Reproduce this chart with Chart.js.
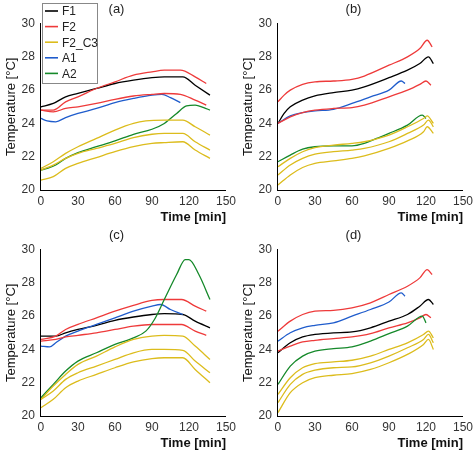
<!DOCTYPE html>
<html>
<head>
<meta charset="utf-8">
<script src="https://cdn.jsdelivr.net/npm/chart.js@4/dist/chart.umd.min.js"></script>
<style>
  body { margin: 0; background: #fff; }
  #wrap { position: relative; width: 474px; height: 453px; }
  .panel { position: absolute; width: 237px; height: 226px; }
</style>
</head>
<body>
<div id="wrap">
  <div class="panel" style="left:0;top:0"><canvas id="pa"></canvas></div>
  <div class="panel" style="left:237px;top:0"><canvas id="pb"></canvas></div>
  <div class="panel" style="left:0;top:226px"><canvas id="pc"></canvas></div>
  <div class="panel" style="left:237px;top:226px"><canvas id="pd"></canvas></div>
</div>
<script>
const seriesNames = ['F1', 'F2', 'F2_C3', 'A1', 'A2'];
const seriesColors = ['#000000', '#ee3a3a', '#dcbc1c', '#1f5ccc', '#15892a'];
const xTicks = [0, 30, 60, 90, 120, 150];
const yTicks = [20, 22, 24, 26, 28, 30];

// panel (a)
const aF1 = [[0,25.0],[10,25.2],[20,25.6],[30,25.8],[45,26.1],[60,26.4],[75,26.6],[90,26.75],[100,26.8],[115,26.8],[125,26.3],[137,25.7]];
const aF2top = [[0,24.8],[10,24.8],[20,25.3],[30,25.6],[45,26.1],[60,26.5],[75,26.9],[90,27.1],[100,27.2],[113,27.2],[125,26.8],[134,26.4]];
const aF2bot = [[0,24.8],[10,24.7],[20,24.9],[30,25.0],[45,25.2],[60,25.45],[75,25.65],[90,25.75],[100,25.8],[113,25.75],[125,25.4],[134,25.1]];
const aC3top = [[0,21.3],[10,21.7],[20,22.2],[30,22.6],[45,23.1],[60,23.6],[75,24.0],[85,24.15],[100,24.2],[115,24.2],[125,23.8],[137,23.3]];
const aC3mid = [[0,21.2],[10,21.5],[20,21.9],[30,22.2],[45,22.5],[60,22.8],[75,23.15],[90,23.35],[100,23.4],[115,23.4],[125,22.9],[137,22.4]];
const aC3bot = [[0,20.6],[10,20.8],[20,21.3],[30,21.6],[45,21.95],[60,22.3],[75,22.6],[90,22.8],[100,22.85],[115,22.9],[125,22.4],[137,21.9]];
const aA1 = [[0,24.3],[5,24.15],[12,24.1],[20,24.35],[30,24.6],[45,24.9],[60,25.25],[75,25.5],[90,25.7],[98,25.75],[105,25.55],[113,25.25]];
const aA2 = [[0,21.2],[5,21.3],[12,21.5],[20,21.9],[30,22.25],[45,22.6],[60,22.95],[75,23.35],[90,23.65],[100,24.0],[110,24.6],[118,25.05],[125,25.1],[132,24.95],[137,24.8]];

// panel (b)
const bF1 = [[0,24.0],[5,24.6],[10,25.0],[20,25.4],[30,25.65],[45,25.85],[60,26.0],[70,26.2],[90,26.75],[105,27.2],[115,27.6],[122,28.0],[126,27.6]];
const bF2top = [[0,25.3],[5,25.7],[10,26.0],[20,26.35],[30,26.5],[45,26.55],[60,26.65],[70,26.85],[90,27.5],[105,28.0],[115,28.5],[121,29.0],[125,28.6]];
const bF2bot = [[0,24.0],[10,24.4],[20,24.65],[30,24.8],[45,24.9],[60,24.95],[70,25.1],[90,25.6],[105,26.0],[115,26.35],[120,26.55],[124,26.3]];
const bC3top = [[0,21.4],[10,21.9],[20,22.3],[30,22.55],[45,22.7],[60,22.8],[70,22.9],[90,23.3],[105,23.8],[118,24.3],[121,24.45],[126,24.0]];
const bC3mid = [[0,20.9],[10,21.5],[20,21.9],[30,22.15],[45,22.3],[60,22.4],[70,22.5],[90,22.9],[105,23.4],[118,23.9],[122,24.2],[126,23.8]];
const bC3bot = [[0,20.3],[10,20.9],[20,21.35],[30,21.6],[45,21.75],[60,21.9],[70,22.05],[90,22.5],[105,22.95],[118,23.5],[121,23.8],[126,23.4]];
const bA1 = [[0,24.0],[10,24.45],[20,24.65],[30,24.75],[45,24.85],[60,25.2],[75,25.6],[90,26.0],[100,26.55],[103,26.4]];
const bA2 = [[0,21.7],[10,22.1],[20,22.45],[30,22.6],[45,22.65],[60,22.65],[70,22.8],[80,23.1],[90,23.4],[105,23.9],[117,24.5],[120,24.3]];

// panel (c)
const cF1 = [[0,24.8],[12,24.8],[20,25.0],[30,25.2],[45,25.45],[60,25.75],[75,25.95],[90,26.1],[100,26.15],[115,26.1],[125,25.7],[137,25.3]];
const cF2top = [[0,24.6],[12,24.8],[20,25.2],[30,25.5],[45,25.9],[60,26.3],[75,26.65],[90,26.95],[100,27.0],[114,27.0],[125,26.6],[134,26.3]];
const cF2bot = [[0,24.5],[12,24.6],[20,24.75],[30,24.85],[45,25.0],[60,25.2],[75,25.4],[90,25.5],[100,25.5],[114,25.5],[125,25.1],[134,24.85]];
const cC3top = [[0,21.0],[10,21.8],[20,22.5],[30,23.1],[45,23.6],[60,24.15],[75,24.6],[90,24.8],[100,24.85],[115,24.8],[125,24.2],[137,23.4]];
const cC3mid = [[0,21.0],[10,21.5],[20,22.2],[30,22.6],[45,23.0],[60,23.4],[75,23.8],[90,24.0],[100,24.0],[115,23.95],[125,23.3],[137,22.6]];
const cC3bot = [[0,20.5],[10,21.0],[20,21.7],[30,22.1],[45,22.5],[60,22.9],[75,23.25],[90,23.45],[100,23.5],[115,23.5],[125,22.8],[137,22.0]];
const cA1 = [[0,24.2],[7,24.15],[12,24.4],[20,24.8],[30,25.1],[45,25.5],[60,25.9],[75,26.3],[90,26.6],[97,26.7],[105,26.4],[115,26.1]];
const cA2 = [[0,21.1],[10,21.9],[20,22.7],[30,23.3],[45,23.8],[60,24.3],[75,24.7],[85,25.1],[92,25.8],[100,27.0],[110,28.5],[117,29.4],[120,29.4],[128,28.5],[137,27.0]];

// panel (d)
const dF1 = [[0,23.8],[10,24.4],[20,24.75],[30,24.9],[45,25.0],[60,25.05],[75,25.3],[90,25.7],[105,26.1],[115,26.6],[122,27.0],[126,26.7]];
const dF2top = [[0,25.1],[10,25.7],[20,26.1],[30,26.3],[45,26.35],[60,26.5],[75,26.8],[90,27.3],[105,27.8],[115,28.3],[121,28.8],[125,28.5]];
const dF2bot = [[0,23.9],[10,24.2],[20,24.45],[30,24.55],[45,24.65],[60,24.75],[75,24.95],[90,25.3],[105,25.6],[115,25.9],[120,26.1],[124,25.9]];
const dC3top = [[0,21.3],[10,22.3],[20,22.9],[30,23.15],[45,23.25],[60,23.35],[75,23.6],[90,24.0],[105,24.4],[118,24.9],[122,25.1],[126,24.7]];
const dC3mid = [[0,20.8],[10,21.9],[20,22.5],[30,22.75],[45,22.9],[60,22.95],[75,23.2],[90,23.6],[105,24.1],[118,24.6],[122,24.9],[126,24.4]];
const dC3bot = [[0,20.2],[10,21.4],[20,22.0],[30,22.3],[45,22.45],[60,22.55],[75,22.8],[90,23.2],[105,23.7],[118,24.3],[122,24.6],[126,24.0]];
const dA1 = [[0,24.5],[10,25.0],[20,25.3],[30,25.45],[45,25.6],[60,26.0],[75,26.4],[90,26.85],[100,27.4],[103,27.2]];
const dA2 = [[0,21.9],[10,23.0],[20,23.6],[30,23.9],[45,24.05],[60,24.15],[75,24.5],[90,24.95],[105,25.4],[117,26.0],[120,25.6]];

const panels = [
  { id: 'pa', title: '(a)', legend: true, sets: [[aC3top,2],[aC3mid,2],[aC3bot,2],[aA2,4],[aF2top,1],[aF2bot,1],[aA1,3],[aF1,0]] },
  { id: 'pb', title: '(b)', legend: false, sets: [[bC3top,2],[bC3mid,2],[bC3bot,2],[bA2,4],[bF2top,1],[bF2bot,1],[bA1,3],[bF1,0]] },
  { id: 'pc', title: '(c)', legend: false, sets: [[cC3top,2],[cC3mid,2],[cC3bot,2],[cA2,4],[cF2top,1],[cF2bot,1],[cA1,3],[cF1,0]] },
  { id: 'pd', title: '(d)', legend: false, sets: [[dC3top,2],[dC3mid,2],[dC3bot,2],[dA2,4],[dF2top,1],[dF2bot,1],[dA1,3],[dF1,0]] }
];

const boxLegend = {
  id: 'boxLegend',
  afterDraw(chart, args, opts) {
    if (!opts.show) return;
    const ctx = chart.ctx;
    ctx.save();
    ctx.strokeStyle = '#888';
    ctx.lineWidth = 1;
    ctx.fillStyle = '#fff';
    ctx.fillRect(42.5, 3.5, 55, 80);
    ctx.strokeRect(42.5, 3.5, 55, 80);
    ctx.font = '12px Arial, "Liberation Sans", sans-serif';
    ctx.textBaseline = 'middle';
    seriesNames.forEach((n, i) => {
      const y = 11 + i * 15.6;
      ctx.strokeStyle = seriesColors[i];
      ctx.lineWidth = 1.6;
      ctx.beginPath();
      ctx.moveTo(45, y);
      ctx.lineTo(58, y);
      ctx.stroke();
      ctx.fillStyle = '#222';
      ctx.fillText(n, 62, y + 1);
    });
    ctx.restore();
  }
};

const tickFont = { family: 'Arial, "Liberation Sans", sans-serif', size: 12 };

panels.forEach(p => {
  new Chart(document.getElementById(p.id), {
    type: 'line',
    data: {
      datasets: p.sets.map(s => ({
        data: s[0].map(v => ({ x: v[0], y: v[1] })),
        borderColor: seriesColors[s[1]],
        borderWidth: 1.3,
        pointRadius: 0,
        cubicInterpolationMode: 'monotone'
      }))
    },
    options: {
      responsive: true,
      maintainAspectRatio: false,
      animation: false,
      layout: { padding: { left: 4, right: 8, top: 0, bottom: 1 } },
      plugins: {
        legend: { display: false },
        tooltip: { enabled: false },
        title: { display: true, text: p.title, color: '#222', font: { family: tickFont.family, size: 13, weight: 'normal' }, padding: { top: 2, bottom: 6 } },
        boxLegend: { show: p.legend }
      },
      scales: {
        x: {
          type: 'linear', min: 0, max: 150,
          afterBuildTicks: ax => { ax.ticks = xTicks.map(v => ({ value: v })); },
          grid: { display: false, drawTicks: true, tickLength: 3, tickColor: '#000' },
          border: { color: '#000', width: 1 },
          ticks: { color: '#333', font: tickFont, maxRotation: 0, padding: 1 },
          title: { display: true, text: 'Time [min]', align: 'end', color: '#111', font: { family: tickFont.family, size: 13, weight: 'bold' }, padding: { top: 0, bottom: 0 } }
        },
        y: {
          min: 20, max: 30,
          afterBuildTicks: ax => { ax.ticks = yTicks.map(v => ({ value: v })); },
          grid: { display: false, drawTicks: true, tickLength: 4, tickColor: '#000' },
          border: { color: '#000', width: 1 },
          ticks: { color: '#333', font: tickFont, padding: 2 },
          title: { display: true, text: 'Temperature [°C]', color: '#111', font: { family: tickFont.family, size: 13 }, padding: 0 }
        }
      }
    },
    plugins: [boxLegend]
  });
});
</script>
</body>
</html>
